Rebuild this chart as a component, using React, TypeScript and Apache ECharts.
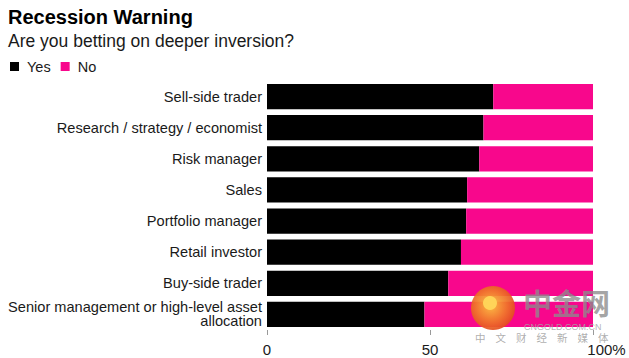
import React, { useEffect, useRef } from "react";
import * as echarts from "echarts";

const categories = [
  "Sell-side trader",
  "Research / strategy / economist",
  "Risk manager",
  "Sales",
  "Portfolio manager",
  "Retail investor",
  "Buy-side trader",
  "Senior management or high-level asset\nallocation",
];
const yesValues = [69.4, 66.4, 65.1, 61.4, 61.1, 59.5, 55.6, 48.3];
const noValues = [30.6, 33.6, 34.9, 38.6, 38.9, 40.5, 44.4, 51.7];
const xTicks = [0, 50, 100];
const watermarkChars = ["中", "文", "财", "经", "新", "媒", "体"];

const PINK = "#f8078c";
const FONT = "'Liberation Sans', Arial, Helvetica, sans-serif";
const CJK = "'Noto Sans CJK SC', sans-serif";

export default function App() {
  const ref = useRef<HTMLDivElement>(null);
  useEffect(() => {
    if (!ref.current) return;
    const chart = echarts.init(ref.current, undefined, { renderer: "svg" });
    const wmChars = watermarkChars.map((c, i) => ({
      type: "text",
      left: 475 + i * 20.5,
      top: 332.5,
      style: {
        text: c,
        fontSize: 10.5,
        lineHeight: 10,
        fontFamily: CJK,
        fill: "rgba(160,160,160,0.85)",
      },
      z: 100,
    }));
    chart.setOption({
      animation: false,
      backgroundColor: "#ffffff",
      textStyle: { fontFamily: FONT },
      title: {
        text: "Recession Warning",
        subtext: "Are you betting on deeper inversion?",
        left: 3,
        top: 2,
        itemGap: 5,
        textStyle: { fontFamily: FONT, fontSize: 20, fontWeight: "bold", color: "#000" },
        subtextStyle: { fontFamily: FONT, fontSize: 17.5, color: "#1a1a1a" },
      },
      legend: {
        left: 5,
        top: 54,
        icon: "rect",
        itemWidth: 9,
        itemHeight: 9,
        itemGap: 10,
        textStyle: { fontFamily: FONT, fontSize: 14.5, color: "#1a1a1a", padding: [0, 0, 0, 3] },
        data: ["Yes", "No"],
      },
      grid: { left: 267, right: 36, top: 81, bottom: 28, containLabel: false },
      xAxis: {
        type: "value",
        min: 0,
        max: 100,
        interval: 50,
        axisLine: { show: false },
        splitLine: { show: false },
        axisTick: { show: true, length: 5, lineStyle: { color: "#999" } },
        axisLabel: {
          fontFamily: FONT,
          fontSize: 15,
          lineHeight: 12,
          color: "#1a1a1a",
          margin: 13,
          formatter: (v: number) =>
            v === xTicks[xTicks.length - 1] ? "{last|" + v + "%}" : String(v),
          rich: {
            last: {
              fontFamily: FONT,
              fontSize: 15,
              lineHeight: 12,
              color: "#1a1a1a",
              padding: [0, 0, 0, 27],
            },
          },
        },
      },
      yAxis: {
        type: "category",
        inverse: true,
        data: categories,
        axisLine: { show: false },
        axisTick: { show: false },
        axisLabel: {
          fontFamily: FONT,
          fontSize: 14.6,
          color: "#1a1a1a",
          margin: 5,
          lineHeight: 14,
          padding: [3, 0, 0, 0],
        },
      },
      series: [
        {
          name: "Yes",
          type: "bar",
          stack: "total",
          data: yesValues,
          barCategoryGap: "19%",
          itemStyle: { color: "#000000" },
        },
        {
          name: "No",
          type: "bar",
          stack: "total",
          data: noValues,
          barCategoryGap: "19%",
          itemStyle: { color: PINK },
        },
      ],
      graphic: [
        {
          type: "circle",
          shape: { cx: 493, cy: 308, r: 22 },
          style: {
            fill: new echarts.graphic.RadialGradient(0.45, 0.45, 0.65, [
              { offset: 0, color: "rgba(252,196,64,0.95)" },
              { offset: 0.55, color: "rgba(240,120,40,0.92)" },
              { offset: 1, color: "rgba(222,60,28,0.92)" },
            ]),
          },
          z: 100,
        },
        {
          type: "circle",
          shape: { cx: 490, cy: 303, r: 7 },
          style: { fill: "rgba(255,214,90,0.95)" },
          z: 101,
        },
        {
          type: "text",
          left: 523,
          top: 286,
          style: {
            text: "中金网",
            fontSize: 29,
            lineHeight: 31,
            fontWeight: "bold",
            fontFamily: CJK,
            fill: "rgba(140,140,140,0.8)",
          },
          z: 100,
        },
        {
          type: "text",
          left: 524,
          top: 322,
          style: {
            text: "CNGOLD.COM.CN",
            fontSize: 9,
            lineHeight: 10,
            fontFamily: FONT,
            fill: "rgba(165,165,165,0.85)",
          },
          z: 100,
        },
        ...wmChars,
      ],
    });
    return () => chart.dispose();
  }, []);
  return (
    <div
      ref={ref}
      style={{ position: "absolute", left: 0, top: 0, width: 629, height: 358 }}
    />
  );
}
